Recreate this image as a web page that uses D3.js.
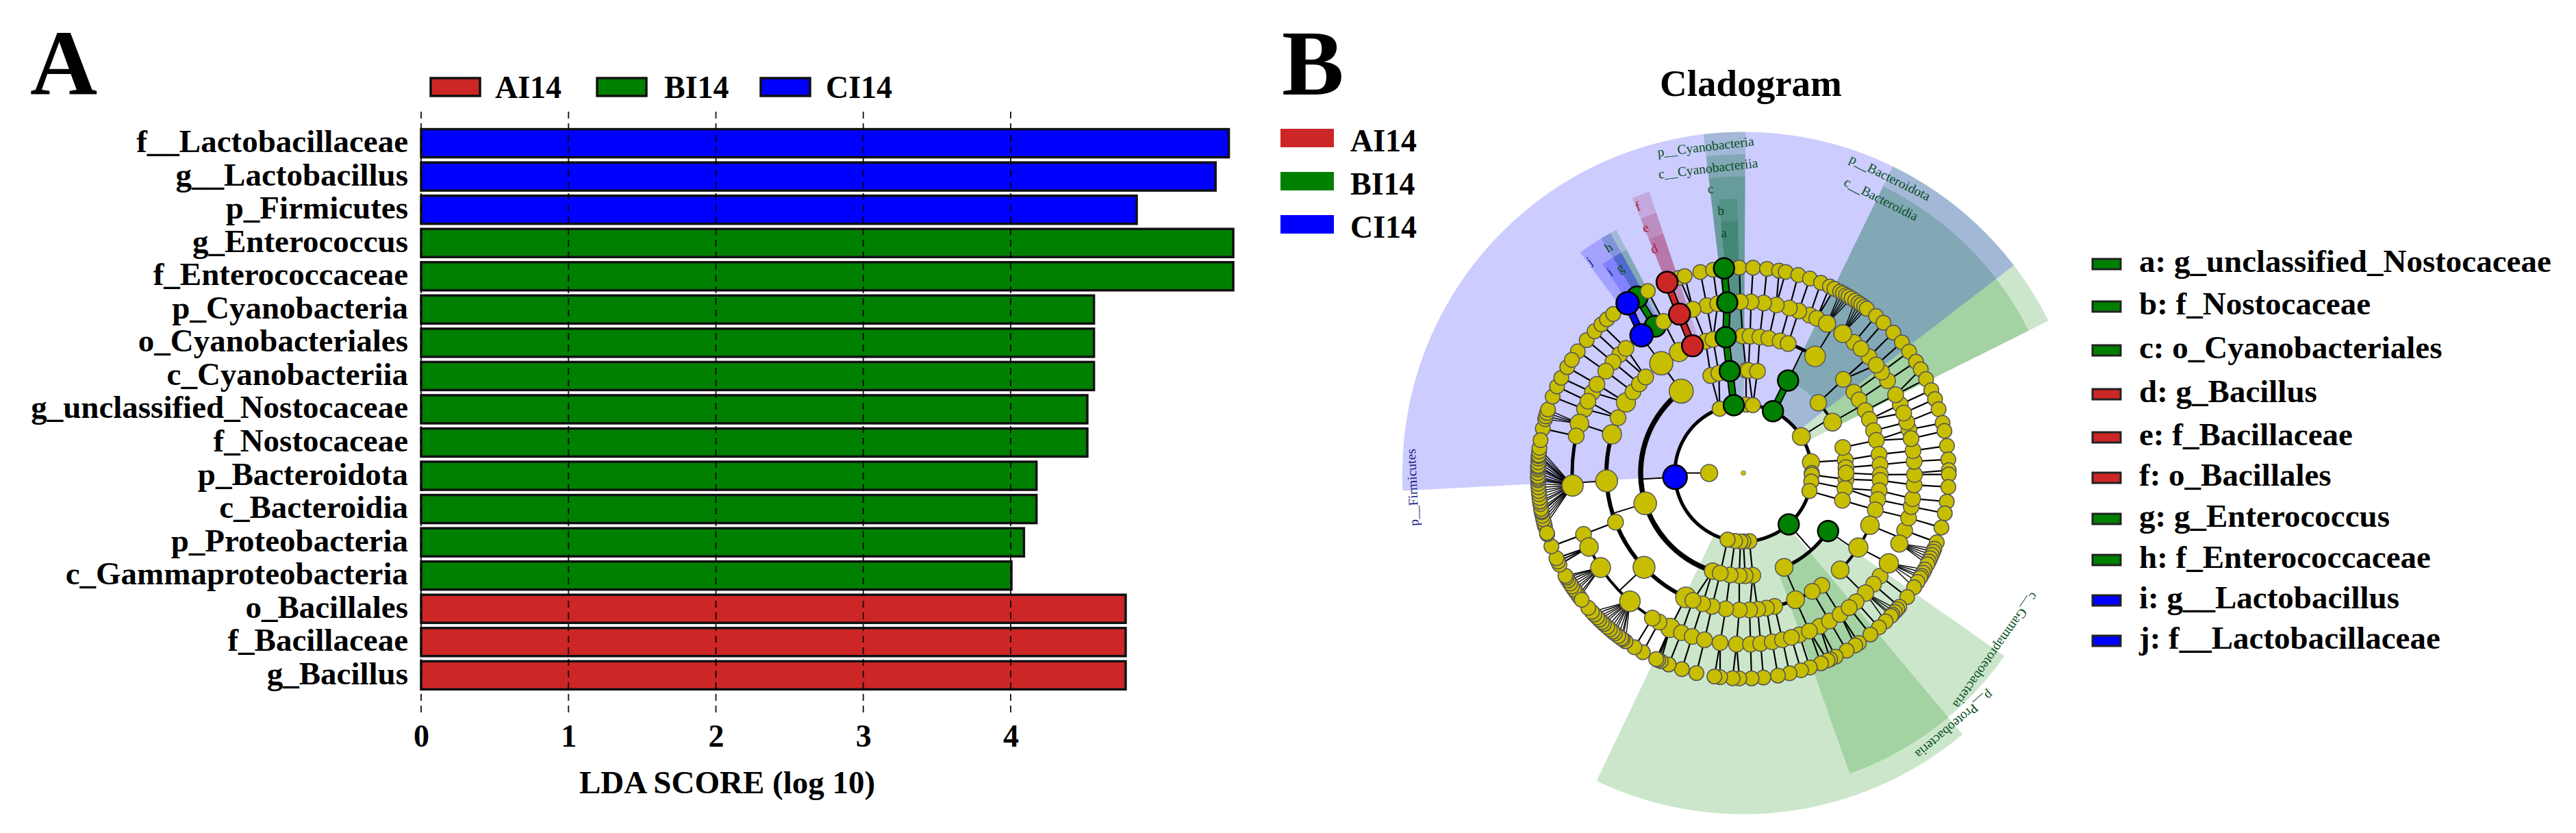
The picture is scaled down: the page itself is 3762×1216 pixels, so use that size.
<!DOCTYPE html>
<html><head><meta charset="utf-8">
<script src="https://cdn.jsdelivr.net/npm/d3@7"></script>
<style>html,body{margin:0;padding:0;background:#fff}svg{display:block}text{font-family:"Liberation Serif",serif}</style>
</head><body><svg id="c" width="3762" height="1216"></svg>
<script>
// ---------- Panel A data ----------
const categories = ["f__Lactobacillaceae","g__Lactobacillus","p_Firmicutes","g_Enterococcus","f_Enterococcaceae","p_Cyanobacteria","o_Cyanobacteriales","c_Cyanobacteriia","g_unclassified_Nostocaceae","f_Nostocaceae","p_Bacteroidota","c_Bacteroidia","p_Proteobacteria","c_Gammaproteobacteria","o_Bacillales","f_Bacillaceae","g_Bacillus"];
const ldaScores = [5.48,5.39,4.855,5.51,5.51,4.565,4.565,4.565,4.52,4.52,4.175,4.175,4.09,4.005,4.78,4.78,4.78];
const barGroups = ["CI14","CI14","CI14","BI14","BI14","BI14","BI14","BI14","BI14","BI14","BI14","BI14","BI14","BI14","AI14","AI14","AI14"];
const groupNames = ["AI14","BI14","CI14"];
const groupColors = ["#CD2626","#008000","#0000FF"];
const xTicks = [0,1,2,3,4];
// ---------- Panel B data: wedges [start angle, end angle, depth, colour group] ----------
const wedges = [
 [26,52.5,2,"BI14"],[26,52.5,3,"BI14"],[52.5,63.5,2,"BI14"],[52.5,63.5,3,"BI14"],
 [140,205.5,2,"BI14"],[125,160.5,3,"BI14"],
 [353.3,360.35,2,"BI14"],[353.3,360.35,3,"BI14"],[353.3,360.35,4,"BI14"],[354.9,358.7,5,"BI14"],[354.9,358.8,6,"BI14"],
 [338,341.5,4,"AI14"],[338,341.5,5,"AI14"],[338,341.5,6,"AI14"],
 [328.8,332.4,5,"BI14"],[328.8,332.4,6,"BI14"],[323.5,331,5,"CI14"],[326,331,6,"CI14"],
 [267,412.5,2,"CI14"]
];
// clade labels [text, angle, radius, colour group]
const cladeLabels = [
 ["p__Firmicutes",267.5,483,"CI14"],["p__Cyanobacteria",353.4,479,"BI14"],["c__Cyanobacteriia",353.4,447,"BI14"],
 ["c",353.4,417,"BI14"],["b",355.1,384,"BI14"],["a",355.3,351,"BI14"],
 ["f",338.4,418,"AI14"],["e",338.2,385,"AI14"],["d",338.3,352,"AI14"],
 ["j",324,382,"CI14"],["h",329.1,383,"BI14"],["i",326.4,352,"CI14"],["g",329,349,"BI14"],
 ["p__Bacteroidota",26.4,481,"BI14"],["c__Bacteroidia",26.7,447,"BI14"],
 ["p__Proteobacteria",140,479,"BI14"],["c__Gammaproteobacteria",125.1,450,"BI14"]
];
// tree: [parent angle (or null), child angles, arc width (if joined by an arc along the child ring)]
const kingdomAngle = 270;
const phylumGroups = [[270,[2.3,8,25.6,57.8,81,90,91.5,97.2,105.2,138.5,174.9,180,182.4,187,193.3,266.6,339.8,352],5]];
const classGroups = [
 [266.6,[197.4,252.8,322.8],7.5],[339.8,[341.5,346.2]],[352,[352.4]],[2.3,[1.5]],[8,[2.8,7.9]],[25.6,[25.8]],
 [57.8,[46.9,60.3],4],[81,[82.8]],[91.5,[93.5]],[97.2,[98.6]],[105.2,[105.4]],[138.5,[124.4,156.6],5],
 [174.9,[174.7]],[180,[179]],[182.4,[182.3]],[187,[187.4]],[193.3,[193]],[null,[75.6,87,90]]
];
const orderGroups = [
 [252.8,[204.8,226.5,249,266.7,286.4,293.8,301,306.3,310.6,314.5],6],[322.8,[323.2]],[null,[332,338.2]],
 [341.5,[344]],[346.2,[347.2]],[352.4,[352.6]],[1.5,[359.7]],[2.8,[2.8]],[7.9,[6.9]],[25.8,[10.7,15.6,19.1,31.6],5],
 [46.9,[46.9]],[60.3,[53.8,57.7,62.9,67,72],1],[75.6,[76.2]],[82.8,[82.2]],[87,[86.5]],[90,[90.7]],[93.5,[93.1]],
 [98.6,[97.4,101.2]],[105.4,[105.6]],[124.4,[112.4,122.9,135],4],[156.6,[145.1,149.8,157.6,166.8,170.3],5],
 [174.7,[174,177.4]],[182.3,[181.7]],[187.4,[187.4]],[193,[193.2]],[197.4,[197.3,201.6]]
];
const familyGroups = [
 [204.8,[205.3]],[201.6,[201.2]],[197.3,[197.4]],[193.2,[193.1]],[187.4,[187.8]],[181.7,[182.3]],[177.4,[177.6]],
 [174,[174.2]],[170.3,[170.3]],[166.8,[166.8]],[null,[160.9,163.7,153.5]],[157.6,[157.3]],[149.8,[149.8]],[145.1,[145.6]],
 [135,[127,130.5,134.5,138.8,141.8],1],[122.9,[121.8]],[112.4,[109.6,114.3],1],[105.6,[105.2]],[101.2,[101.3]],
 [97.4,[98.6]],[93.1,[94]],[90.7,[90.5]],[86.5,[86.1]],[82.2,[82.5]],[76.2,[75.3,78.4]],[72,[72.7]],[67,[66.4,69.5]],
 [62.9,[62.8]],[57.7,[57.4]],[53.8,[53.9]],[46.9,[47.2,50.9]],[null,[40.3,43.4]],[31.6,[22.8,25.4,29.3,35.5],1],
 [19.1,[18.9]],[15.6,[15.6]],[10.7,[11.1]],[6.9,[6.8]],[2.8,[2.6]],[359.7,[359]],[352.6,[354.6]],[347.2,[347.7,351.4]],
 [344,[342.9]],[338.2,[338.1]],[332,[332.2]],[323.2,[323.5,329],1],[314.5,[313.8,316.7]],[310.6,[310.4]],[306.3,[306.5]],
 [301,[298.1,301.2]],[293.8,[291.9,294.8]],[286.4,[286.8]],[266.7,[265.8,282.5],5],[249,[249]],
 [226.5,[209.5,212.1,221.5,236.5,244.4],4]
];
const genusGroups = [
 [265.8,[255,256,257,258,259,259.3,260,261.3,262,263,264.1,265,266,267,268,268.5,269,270,271,271.6,272,273,274,274.7,275,276,277]],
 [282.5,[282.5]],[286.8,[285.2,286,287,288]],[291.9,[291.8]],[294.8,[294.9]],[298.1,[297.6]],[301.2,[301]],[306.5,[306.3]],
 [310.4,[310.3]],[313.8,[313.6]],[316.7,[316.3]],[323.5,[325.7]],[329,[328.9]],[332.2,[332.3]],[338.1,[338.2]],[342.9,[341.8,343.4]],
 [347.7,[347.9]],[351.4,[351.5]],[354.6,[354.6]],[359,[358.9]],[2.6,[2.7]],[6.8,[6.6]],[11.1,[10,11.9]],[15.6,[15.5]],[18.9,[18.9]],
 [22.8,[22.2]],[25.4,[24.9,26.3]],[29.3,[28.1,29,30,30.8,31.8]],[35.5,[33,34.1,35,36,36.9]],[40.3,[40.2]],[43.4,[43]],[47.2,[46.9]],
 [50.9,[50.5]],[53.9,[53.8]],[57.4,[57.2]],[62.8,[59.7,62.8]],[66.4,[66.2]],[69.5,[68.9]],[72.7,[71.9]],[75.3,[75.9]],[78.4,[78.2]],
 [82.5,[82.4]],[86.1,[86.2]],[90,[89.2]],[90.5,[90.4]],[94,[93.9]],[98.6,[98]],[101.3,[101.3]],[105.2,[105.4]],[109.6,[109.7]],
 [114.3,[111.6,112.5,113.5,114.5,115.5,116.4]],[121.8,[118,119,120,120.7,122,123.8]],[127,[127.1]],[130.5,[130.6]],
 [134.5,[131.5,132.5,133.5,134.1,136.2]],[138.8,[138.7]],[141.8,[141.8]],[145.6,[145.8,147]],[149.8,[149.8]],[153.5,[153.3,155]],
 [157.3,[155.8,157.8]],[160.9,[161.1]],[163.7,[163.7]],[166.8,[167]],[170.3,[170.3]],[174.2,[174.4]],[177.6,[177.7]],[182.3,[181.1,183]],
 [187.8,[186.5,188.1]],[193.1,[193.2]],[197.4,[197.4]],[201.2,[201.3]],[205.3,[203.7,204.5,205.1]],[209.5,[209.3]],[212.1,[212]],
 [221.5,[215,216,216.5,217.5,218.7,219.5,220.5,221.5,222.7,223.5,224.5,225.4,226.5,227.5]],
 [236.5,[232.8,233.5,234.7,235.5,236.5,237.5,238.5,239.4,240]],[244.4,[243.5,244.5,245.5]],[249,[249.1]],
 [null,[229,231.9,252.7,253,279.2,303.4,318.4,320.7]]
];
const treeLevels = [phylumGroups,classGroups,orderGroups,familyGroups,genusGroups];
// node size (clade abundance) per level: default, and enlarged clades [angle, size]
const nodeDefaults = [3.5,12.5,11,11.5,11.5,11.5,10.8];
const bigNodes = {
 2:[[266.6,17.5],[57.8,13],[81,12.5],[138.5,15],[25.6,15],[352,15]],
 3:[[197.4,12],[252.8,16.5],[322.8,17.5],[46.9,12],[60.3,13],[124.4,15],[156.6,13],[25.8,15],[352.4,15]],
 4:[[204.8,15],[226.5,16],[249,11.5],[266.7,16],[286.4,14],[301,14],[323.2,17],[332,14],[31.6,15],[112.4,13.5],[122.9,14],[135,13],[157.6,13],[338.2,15.5],[352.6,15]],
 5:[[221.5,15],[236.5,14.5],[244.4,13.5],[249,11.5],[265.8,15.5],[286.8,13.5],[205.3,14],[29.3,12.5],[35.5,13],[121.8,14],[114.3,12.5],[134.5,12],[323.5,16.5],[329,15.5],[338.1,15.5],[354.6,15]],
 6:[[325.7,16.5],[328.9,15.5],[338.2,15.5],[354.6,15]]
};
// significant clades [level, angle, colour group]
const markedNodes = [[6,354.6,"BI14"],[5,354.6,"BI14"],[4,352.6,"BI14"],[3,352.4,"BI14"],[2,352,"BI14"],[3,25.8,"BI14"],[2,25.6,"BI14"],
 [2,138.5,"BI14"],[3,124.4,"BI14"],[6,338.2,"AI14"],[5,338.1,"AI14"],[4,338.2,"AI14"],[2,266.6,"CI14"],[6,325.7,"CI14"],[5,323.5,"CI14"]];
const markedUnder = [[6,328.9,"BI14"],[5,329,"BI14"]];
// thick links between significant clades [level, parent angle, child angle, colour group]
const markedLinks = [[5,354.6,354.6,"BI14"],[4,352.6,354.6,"BI14"],[3,352.4,352.6,"BI14"],[2,352,352.4,"BI14"],[2,25.6,25.8,"BI14"],
 [5,329,328.9,"BI14"],[5,338.1,338.2,"AI14"],[4,338.2,338.1,"AI14"],[5,323.5,325.7,"CI14"]];
const cladeKeys = ["a: g_unclassified_Nostocaceae","b: f_Nostocaceae","c: o_Cyanobacteriales","d: g_Bacillus","e: f_Bacillaceae","f: o_Bacillales","g: g_Enterococcus","h: f_Enterococcaceae","i: g__Lactobacillus","j: f__Lactobacillaceae"];
const cladeKeyGroups = ["BI14","BI14","BI14","AI14","AI14","AI14","BI14","BI14","CI14","CI14"];

// ---------- Drawing ----------
const svg = d3.select("#c");
const color = d3.scaleOrdinal(groupNames,groupColors);
function label(g,x,y,t,size,anchor="start"){
  return g.append("text").attr("x",x).attr("y",y).attr("font-size",size).attr("font-weight","bold").attr("text-anchor",anchor).attr("fill","#000").text(t);
}
// Panel A
const A = svg.append("g");
label(A,44,138,"A",136);
const x = d3.scaleLinear().domain([0,4]).range([615,1476]);
const y = d3.scaleBand().domain(categories).range([184.7,1010.2]).paddingInner(0.155).paddingOuter(0.08);
A.selectAll("rect.bar").data(categories).join("rect").attr("class","bar")
 .attr("x",x(0)).attr("y",d=>y(d)).attr("height",y.bandwidth())
 .attr("width",(d,i)=>x(ldaScores[i])-x(0)).attr("fill",(d,i)=>color(barGroups[i])).attr("stroke","#111").attr("stroke-width",3.5);
A.selectAll("line.grid").data(xTicks).join("line").attr("class","grid").attr("x1",d=>x(d)).attr("x2",d=>x(d)).attr("y1",163).attr("y2",1047)
 .attr("stroke","#000").attr("stroke-width",2).attr("stroke-dasharray","10 7").attr("opacity",.85);
A.selectAll("text.cat").data(categories).join("text").attr("class","cat").attr("x",596).attr("y",d=>y(d)+y.bandwidth()/2+13)
 .attr("text-anchor","end").attr("font-size",47).attr("font-weight","bold").text(d=>d);
const axis = d3.axisBottom(x).tickValues(xTicks).tickFormat(d3.format("d")).tickSize(0).tickPadding(0);
const ax = A.append("g").attr("transform","translate(0,1052)").call(axis);
ax.select(".domain").remove();
ax.selectAll("text").attr("font-size",46).attr("font-weight","bold").attr("font-family","Liberation Serif").attr("fill","#000").attr("dy",0).attr("y",38);
label(A,1062,1158,"LDA SCORE (log 10)",47,"middle");
const legX=[629,872,1111], legT=[723,970,1206];
groupNames.forEach((n,i)=>{
  A.append("rect").attr("x",legX[i]).attr("y",114).attr("width",72).attr("height",26).attr("fill",groupColors[i]).attr("stroke","#111").attr("stroke-width",3.5);
  label(A,legT[i],143,n,46);
});
// Panel B
const B = svg.append("g");
label(B,1872,138,"B",136);
label(B,2557,140,"Cladogram",55,"middle");
groupNames.forEach((n,i)=>{
  B.append("rect").attr("x",1870).attr("y",188+i*63).attr("width",78).attr("height",27).attr("fill",groupColors[i]);
  label(B,1972,221+i*63,n,46);
});
const keyBase=[397,459,523,587,650,709,769,829,888,947];
cladeKeys.forEach((t,i)=>{
  B.append("rect").attr("x",3056).attr("y",keyBase[i]-19).attr("width",41).attr("height",15).attr("fill",color(cladeKeyGroups[i])).attr("stroke","#222").attr("stroke-width",3);
  label(B,3124,keyBase[i],t,47);
});
const clad = B.append("g").attr("transform","translate(2546,690.5)");
const ring = d3.scaleLinear().domain([0,6]).range([0,300]);
const bandOuter = d3.scaleLinear().domain([2,6]).range([498,368]);
const rad = d3.scaleLinear().domain([0,360]).range([0,2*Math.PI]);
const pt = (lvl,a)=>d3.pointRadial(rad(a),ring(lvl));
const arc = d3.arc();
clad.selectAll("path.wedge").data(wedges).join("path").attr("class","wedge")
 .attr("d",d=>arc({innerRadius:ring(d[2]),outerRadius:bandOuter(d[2]),startAngle:rad(d[0]),endAngle:rad(d[1])}))
 .attr("fill",d=>color(d[3])).attr("fill-opacity",.2);
const labelTint = {AI14:"#a81c38",BI14:"#064d22",CI14:"#1c1c85"};
clad.selectAll("text.lab").data(cladeLabels).join("text").attr("class","lab")
 .attr("transform",d=>{const p=d3.pointRadial(rad(d[1]),d[2]);return `translate(${p[0]},${p[1]}) rotate(${d[1]})`;})
 .attr("text-anchor","middle").attr("dy","0.3em").attr("font-size",19.5).attr("fill",d=>labelTint[d[3]]).text(d=>d[0]);
// links
const links = clad.append("g").attr("stroke","#000").attr("fill","none");
treeLevels.forEach((groups,li)=>{
  const lvl=li+2;
  groups.forEach(([pa,kids,w])=>{
    if(pa===null) return;
    const P=pt(lvl-1,pa);
    if(w){
      const Q=pt(lvl,pa);
      links.append("line").attr("x1",P[0]).attr("y1",P[1]).attr("x2",Q[0]).attr("y2",Q[1]).attr("stroke-width",2);
      const a0=Math.min(...kids),a1=Math.max(...kids),r=ring(lvl);
      links.append("path").attr("stroke","none").attr("fill","#000").attr("d",arc({innerRadius:r-w/2,outerRadius:r+w/2,startAngle:rad(a0),endAngle:rad(a1)}));
    } else {
      kids.forEach(k=>{const C=pt(lvl,k);
        links.append("line").attr("x1",P[0]).attr("y1",P[1]).attr("x2",C[0]).attr("y2",C[1]).attr("stroke-width",kids.length>=4?1.4:2.2);});
    }
  });
});
markedLinks.forEach(([lvl,a,b,g])=>{
  const P=pt(lvl,a),C=pt(lvl+1,b);
  links.append("line").attr("x1",P[0]).attr("y1",P[1]).attr("x2",C[0]).attr("y2",C[1]).attr("stroke-width",11);
  links.append("line").attr("x1",P[0]).attr("y1",P[1]).attr("x2",C[0]).attr("y2",C[1]).attr("stroke-width",7).attr("stroke",color(g));
});
// nodes
const nodeSize=(lvl,a)=>{const b=(bigNodes[lvl]||[]).find(e=>e[0]===a);return b?b[1]:nodeDefaults[lvl];};
const isMarked=(list,lvl,a)=>list.some(m=>m[0]===lvl&&m[1]===a);
function drawNode(lvl,a,fill,strokeC,sw){
  const p=pt(lvl,a);
  clad.append("circle").attr("cx",p[0]).attr("cy",p[1]).attr("r",nodeSize(lvl,a)).attr("fill",fill).attr("stroke",strokeC).attr("stroke-width",sw);
}
markedUnder.forEach(([l,a,g])=>drawNode(l,a,color(g),"#000",2.5));
drawNode(0,0,"#C8BE00","#777",.8);
drawNode(1,kingdomAngle,"#C8BE00","#555",1.5);
treeLevels.forEach((groups,li)=>{
  const lvl=li+2, seen=new Set();
  groups.forEach(([pa,kids])=>kids.forEach(k=>{
    if(seen.has(k)) return; seen.add(k);
    if(isMarked(markedNodes,lvl,k)||isMarked(markedUnder,lvl,k)) return;
    drawNode(lvl,k,"#C8BE00","#555",1.5);
  }));
});
markedNodes.forEach(([l,a,g])=>drawNode(l,a,color(g),"#000",2.5));
</script></body></html>
